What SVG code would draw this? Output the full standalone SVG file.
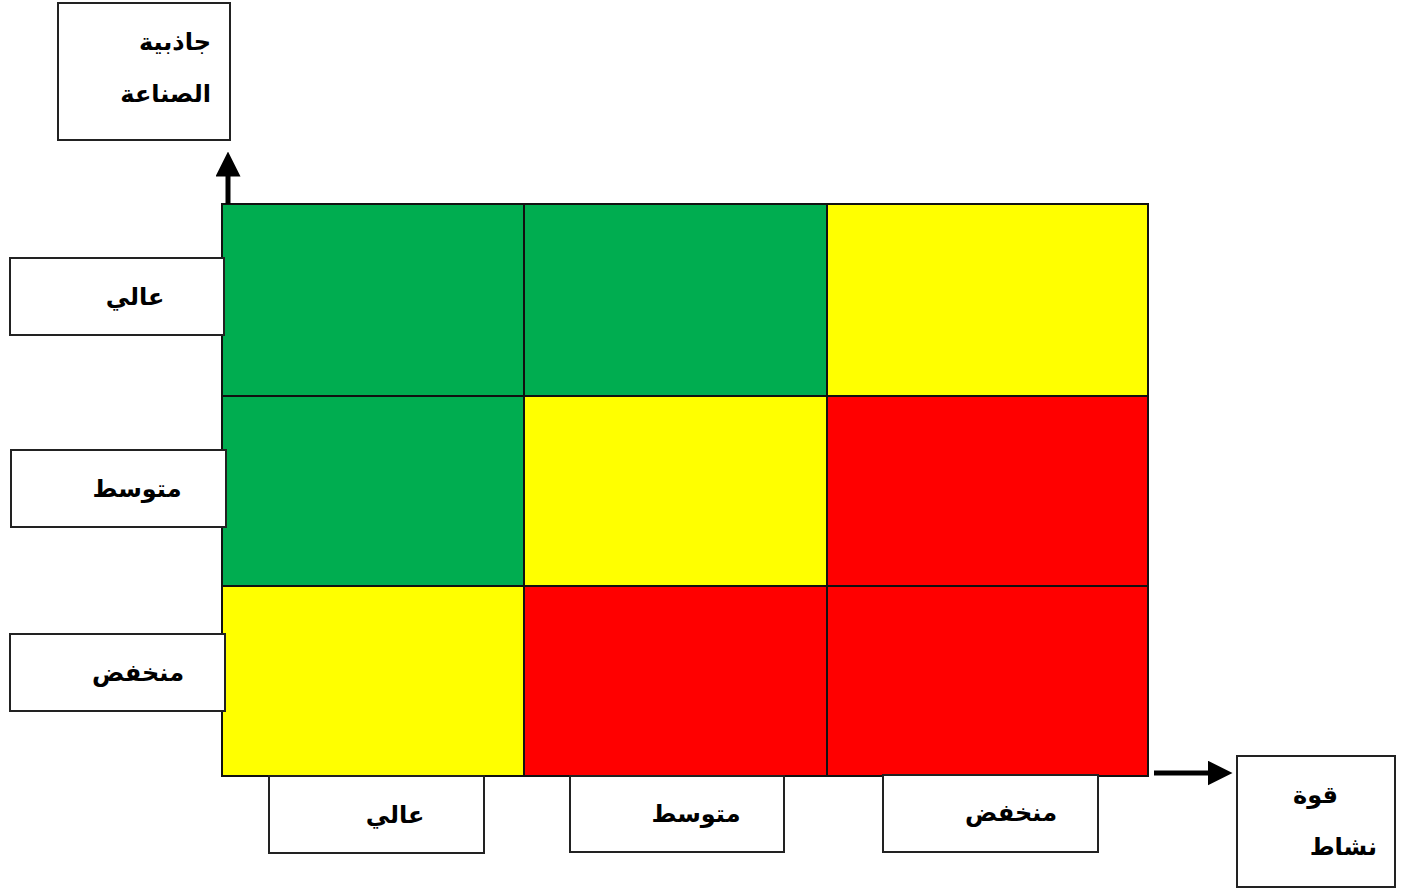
<svg xmlns="http://www.w3.org/2000/svg" width="1402" height="888" viewBox="0 0 1402 888">
<style>
.box{fill:#fff;stroke:#222;stroke-width:2}
.cell{stroke:#111;stroke-width:2}
.g{fill:#00ad50}.y{fill:#ffff00}.r{fill:#ff0000}
.t{font-family:"Liberation Sans","DejaVu Sans",sans-serif;font-weight:bold;font-size:24px;fill:#000;direction:rtl}
.ar{fill:none;stroke:#000;stroke-width:5}
</style>
<defs>
<marker id="ah" markerWidth="5" markerHeight="5" refX="0.5" refY="2.5" orient="auto" markerUnits="strokeWidth">
<path d="M0,0 L5,2.5 L0,5 Z" fill="#000"/>
</marker>
</defs>
<g id="grid">
<rect class="cell g" x="222" y="204" width="302" height="192"/>
<rect class="cell g" x="524" y="204" width="303" height="192"/>
<rect class="cell y" x="827" y="204" width="321" height="192"/>
<rect class="cell g" x="222" y="396" width="302" height="190"/>
<rect class="cell y" x="524" y="396" width="303" height="190"/>
<rect class="cell r" x="827" y="396" width="321" height="190"/>
<rect class="cell y" x="222" y="586" width="302" height="190"/>
<rect class="cell r" x="524" y="586" width="303" height="190"/>
<rect class="cell r" x="827" y="586" width="321" height="190"/>
</g>
<g id="connectors">
<line class="ar" x1="228" y1="204" x2="228" y2="174" marker-end="url(#ah)"/>
<line class="ar" x1="1154" y1="773" x2="1210" y2="773" marker-end="url(#ah)"/>
</g>
<g id="y-title">
<rect class="box" x="58" y="3" width="172" height="137"/>
<text class="t" x="211" y="50" text-anchor="start">جاذبية</text>
<text class="t" x="211" y="102" text-anchor="start">الصناعة</text>
</g>
<g id="y-high">
<rect class="box" x="10" y="258" width="214" height="77"/>
<text class="t" x="135" y="305" text-anchor="middle">عالي</text>
</g>
<g id="y-mid">
<rect class="box" x="11" y="450" width="215" height="77"/>
<text class="t" x="137" y="497" text-anchor="middle">متوسط</text>
</g>
<g id="y-low">
<rect class="box" x="10" y="634" width="215" height="77"/>
<text class="t" x="138" y="681" text-anchor="middle">منخفض</text>
</g>
<g id="x-high">
<rect class="box" x="269" y="776" width="215" height="77"/>
<text class="t" x="395" y="823" text-anchor="middle">عالي</text>
</g>
<g id="x-mid">
<rect class="box" x="570" y="776" width="214" height="76"/>
<text class="t" x="696" y="822" text-anchor="middle">متوسط</text>
</g>
<g id="x-low">
<rect class="box" x="883" y="775" width="215" height="77"/>
<text class="t" x="1011" y="821" text-anchor="middle">منخفض</text>
</g>
<g id="x-title">
<rect class="box" x="1237" y="756" width="158" height="131"/>
<text class="t" x="1338" y="803" text-anchor="start">قوة</text>
<text class="t" x="1377" y="855" text-anchor="start">نشاط</text>
</g>
</svg>
